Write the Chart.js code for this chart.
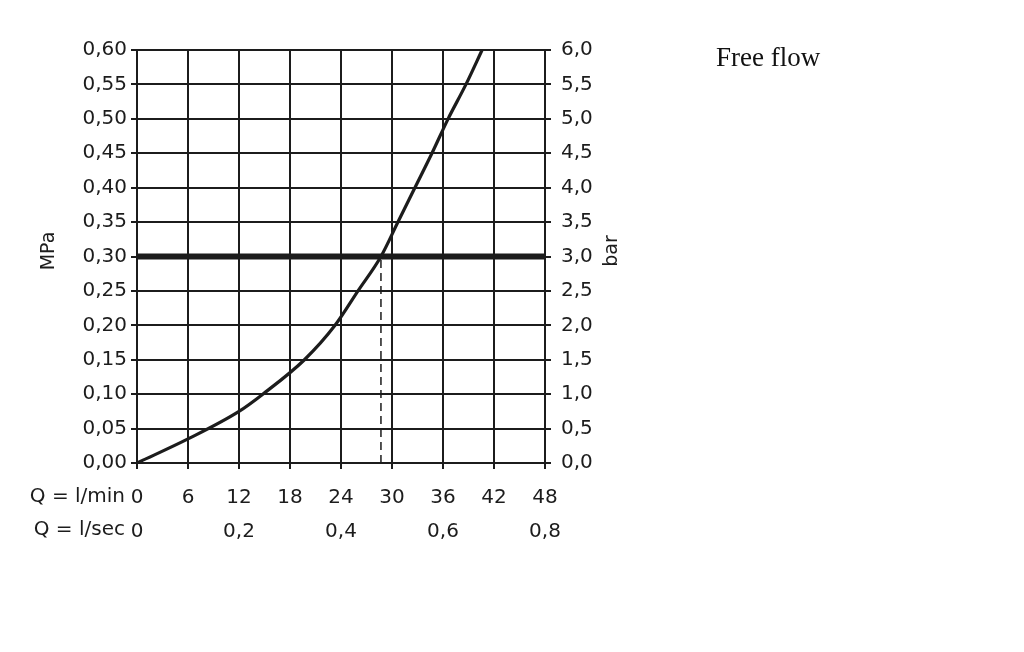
<!DOCTYPE html>
<html>
<head>
<meta charset="utf-8">
<script src="https://cdn.jsdelivr.net/npm/chart.js@4"></script>
<style>
  html, body { margin: 0; padding: 0; background: #fff; }
  #wrap { position: relative; width: 1024px; height: 652px; }
  #title {
    position: absolute; left: 716px; top: 44px;
    font-family: "Liberation Serif", "Times New Roman", serif;
    font-size: 27px; line-height: 1; color: #111;
  }
</style>
</head>
<body>
<div id="wrap">
  <canvas id="chart"></canvas>
  <div id="title">Free flow</div>
</div>
<script>
// flow (l/min) vs pressure (MPa)
const flowLpm     = [0, 6, 12, 14.8, 19.7, 23.3, 26.0, 28.7, 30.7, 32.7, 34.7, 36.6, 38.7, 40.6];
const pressureMPa = [0, 0.035, 0.075, 0.10, 0.15, 0.20, 0.25, 0.30, 0.35, 0.40, 0.45, 0.50, 0.55, 0.60];

// reference working pressure + matching flow
const refPressure = 0.30;
const refFlow = 28.7;

// axis ranges
const flowRange = [0, 48];       // l/min
const flowSecRange = [0, 0.8];   // l/sec
const mpaRange = [0, 0.60];
const barRange = [0, 6.0];

const ink = '#1c1c1c';
const tickFont = { family: 'DejaVu Sans', size: 20 };

const comma = (v, d) => v.toFixed(d).replace('.', ',');

// axis titles + row labels drawn next to the scales
const sideText = {
    id: 'sideText',
    afterDraw(chart) {
        const { ctx, chartArea, scales } = chart;
        ctx.save();
        ctx.fillStyle = ink;
        ctx.font = '19px "DejaVu Sans"';
        ctx.textBaseline = 'middle';
        ctx.textAlign = 'center';
        const midY = 251;
        ctx.save();
        ctx.translate(49, midY);
        ctx.rotate(-Math.PI / 2);
        ctx.fillText('MPa', 0, 0);
        ctx.restore();
        ctx.save();
        ctx.translate(612, midY);
        ctx.rotate(-Math.PI / 2);
        ctx.fillText('bar', 0, 0);
        ctx.restore();

        ctx.font = '20px "DejaVu Sans"';
        ctx.textAlign = 'right';
        ctx.fillText('Q = l/min', chartArea.left - 12, scales.x.top + 34);
        ctx.fillText('Q = l/sec', chartArea.left - 12, scales.x2.top + 22);
        ctx.restore();
    }
};

const ctx = document.getElementById('chart').getContext('2d');
new Chart(ctx, {
    type: 'scatter',
    data: {
        datasets: [
            {
                label: 'curve',
                data: flowLpm.map((q, i) => ({ x: q, y: pressureMPa[i] })),
                showLine: true,
                borderColor: ink,
                borderWidth: 3.2,
                pointRadius: 0,
                cubicInterpolationMode: 'monotone'
            },
            {
                label: 'ref',
                data: [{ x: flowRange[0], y: refPressure }, { x: flowRange[1], y: refPressure }],
                showLine: true,
                borderColor: ink,
                borderWidth: 6,
                pointRadius: 0
            },
            {
                label: 'drop',
                data: [{ x: refFlow, y: 0 }, { x: refFlow, y: refPressure }],
                showLine: true,
                borderColor: ink,
                borderWidth: 1.5,
                borderDash: [8, 5],
                pointRadius: 0
            }
        ]
    },
    options: {
        responsive: true,
        maintainAspectRatio: false,
        animation: false,
        layout: { padding: { left: 0, top: 50, right: 379, bottom: 104 } },
        plugins: {
            legend: { display: false },
            tooltip: { enabled: false }
        },
        scales: {
            x: {
                type: 'linear',
                position: 'bottom',
                min: flowRange[0], max: flowRange[1],
                afterFit: s => { s.height = 45; },
                grid: { color: ink, lineWidth: 2, tickLength: 6 },
                border: { color: ink, width: 2 },
                ticks: { stepSize: 6, color: ink, font: tickFont, padding: 17, maxRotation: 0 }
            },
            x2: {
                type: 'linear',
                position: 'bottom',
                min: flowSecRange[0], max: flowSecRange[1],
                afterFit: s => { s.height = 40; },
                grid: { display: false, drawTicks: false },
                border: { display: false },
                ticks: {
                    stepSize: 0.2, color: ink, font: tickFont, padding: 12, maxRotation: 0,
                    callback: v => v === 0 ? '0' : comma(v, 1)
                }
            },
            y: {
                position: 'left',
                min: mpaRange[0], max: mpaRange[1],
                afterFit: s => { s.width = 137; },
                grid: { color: ink, lineWidth: 2, tickLength: 6 },
                border: { color: ink, width: 2 },
                ticks: {
                    stepSize: 0.05, color: ink, font: tickFont, padding: 4,
                    callback: v => comma(v, 2)
                }
            },
            y2: {
                position: 'right',
                min: barRange[0], max: barRange[1],
                afterFit: s => { s.width = 100; },
                grid: { drawOnChartArea: false, color: ink, lineWidth: 2, tickLength: 6 },
                border: { color: ink, width: 2 },
                ticks: {
                    stepSize: 0.5, color: ink, font: tickFont, padding: 10,
                    callback: v => comma(v, 1)
                }
            }
        }
    },
    plugins: [sideText]
});
</script>
</body>
</html>
